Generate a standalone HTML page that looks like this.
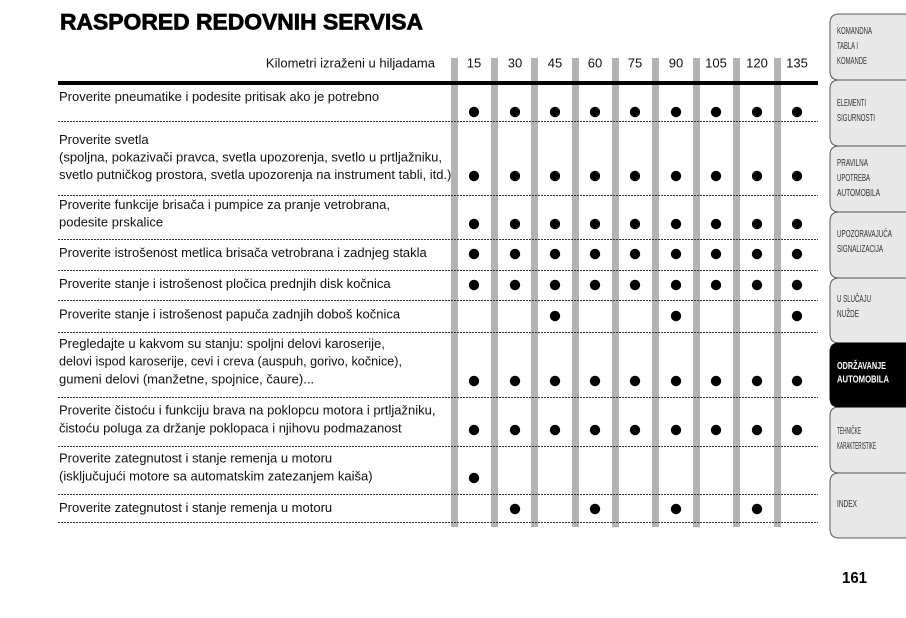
<!DOCTYPE html>
<html>
<head>
<meta charset="utf-8">
<style>
  html, body { margin:0; padding:0; background:#fff; }
  body { width:906px; height:618px; overflow:hidden; position:relative; }
  svg { position:absolute; left:0; top:0; }
  .t { font-family:"Liberation Sans", Arial, sans-serif; font-size:13px; fill:#111; }
  .tab { font-family:"Liberation Sans", Arial, sans-serif; font-size:10.5px; fill:#333; }
</style>
</head>
<body>
<svg width="906" height="618" viewBox="0 0 906 618" xmlns="http://www.w3.org/2000/svg">
  <!-- Title -->
  <text x="60" y="29.5" font-family="Liberation Sans, Arial, sans-serif" font-weight="bold" font-size="22" fill="#000" stroke="#000" stroke-width="0.7" textLength="363" lengthAdjust="spacingAndGlyphs">RASPORED REDOVNIH SERVISA</text>

  <!-- Gray column bars -->
  <g fill="#b3b3b3">
    <rect x="451" y="58" width="7" height="469"/>
    <rect x="491" y="58" width="7" height="469"/>
    <rect x="531" y="58" width="7" height="469"/>
    <rect x="572" y="58" width="7" height="469"/>
    <rect x="612" y="58" width="7" height="469"/>
    <rect x="652" y="58" width="7" height="469"/>
    <rect x="693" y="58" width="7" height="469"/>
    <rect x="733" y="58" width="7" height="469"/>
    <rect x="774" y="58" width="7" height="469"/>
  </g>

  <!-- Header -->
  <text class="t" x="435" y="67.5" text-anchor="end">Kilometri izraženi u hiljadama</text>
  <g class="t" text-anchor="middle">
    <text x="474" y="67.5">15</text>
    <text x="515" y="67.5">30</text>
    <text x="555" y="67.5">45</text>
    <text x="595" y="67.5">60</text>
    <text x="635" y="67.5">75</text>
    <text x="676" y="67.5">90</text>
    <text x="716" y="67.5">105</text>
    <text x="757" y="67.5">120</text>
    <text x="797" y="67.5">135</text>
  </g>

  <!-- Thick rule -->
  <rect x="58" y="81" width="760" height="4" fill="#000"/>

  <!-- Dotted row separators -->
  <g stroke="#333" stroke-width="1" stroke-dasharray="2 1">
    <line x1="58" y1="121.5" x2="818" y2="121.5"/>
    <line x1="58" y1="195.5" x2="818" y2="195.5"/>
    <line x1="58" y1="239.5" x2="818" y2="239.5"/>
    <line x1="58" y1="270.5" x2="818" y2="270.5"/>
    <line x1="58" y1="300.5" x2="818" y2="300.5"/>
    <line x1="58" y1="332.5" x2="818" y2="332.5"/>
    <line x1="58" y1="397.5" x2="818" y2="397.5"/>
    <line x1="58" y1="446.5" x2="818" y2="446.5"/>
    <line x1="58" y1="494.5" x2="818" y2="494.5"/>
    <line x1="58" y1="522.5" x2="818" y2="522.5"/>
  </g>

  <!-- Row text -->
  <g class="t">
    <text x="59" y="101">Proverite pneumatike i podesite pritisak ako je potrebno</text>

    <text x="59" y="144">Proverite svetla</text>
    <text x="59" y="161.5">(spoljna, pokazivači pravca, svetla upozorenja, svetlo u prtljažniku,</text>
    <text x="59" y="179">svetlo putničkog prostora, svetla upozorenja na instrument tabli, itd.)</text>

    <text x="59" y="209">Proverite funkcije brisača i pumpice za pranje vetrobrana,</text>
    <text x="59" y="226.5">podesite prskalice</text>

    <text x="59" y="257">Proverite istrošenost metlica brisača vetrobrana i zadnjeg stakla</text>

    <text x="59" y="288">Proverite stanje i istrošenost pločica prednjih disk kočnica</text>

    <text x="59" y="318.5">Proverite stanje i istrošenost papuča zadnjih doboš kočnica</text>

    <text x="59" y="348">Pregledajte u kakvom su stanju: spoljni delovi karoserije,</text>
    <text x="59" y="365.5" textLength="343" lengthAdjust="spacingAndGlyphs">delovi ispod karoserije, cevi i creva (auspuh, gorivo, kočnice),</text>
    <text x="59" y="383.5">gumeni delovi (manžetne, spojnice, čaure)...</text>

    <text x="59" y="414.5">Proverite čistoću i funkciju brava na poklopcu motora i prtljažniku,</text>
    <text x="59" y="432.5">čistoću poluga za držanje poklopaca i njihovu podmazanost</text>

    <text x="59" y="462.5">Proverite zategnutost i stanje remenja u motoru</text>
    <text x="59" y="480.5">(isključujući motore sa automatskim zatezanjem kaiša)</text>

    <text x="59" y="512">Proverite zategnutost i stanje remenja u motoru</text>
  </g>

  <!-- Dots -->
  <g fill="#000">
    <circle cx="474" cy="112" r="5.2"/><circle cx="515" cy="112" r="5.2"/><circle cx="555" cy="112" r="5.2"/><circle cx="595" cy="112" r="5.2"/><circle cx="635" cy="112" r="5.2"/><circle cx="676" cy="112" r="5.2"/><circle cx="716" cy="112" r="5.2"/><circle cx="757" cy="112" r="5.2"/><circle cx="797" cy="112" r="5.2"/>
    <circle cx="474" cy="176" r="5.2"/><circle cx="515" cy="176" r="5.2"/><circle cx="555" cy="176" r="5.2"/><circle cx="595" cy="176" r="5.2"/><circle cx="635" cy="176" r="5.2"/><circle cx="676" cy="176" r="5.2"/><circle cx="716" cy="176" r="5.2"/><circle cx="757" cy="176" r="5.2"/><circle cx="797" cy="176" r="5.2"/>
    <circle cx="474" cy="224" r="5.2"/><circle cx="515" cy="224" r="5.2"/><circle cx="555" cy="224" r="5.2"/><circle cx="595" cy="224" r="5.2"/><circle cx="635" cy="224" r="5.2"/><circle cx="676" cy="224" r="5.2"/><circle cx="716" cy="224" r="5.2"/><circle cx="757" cy="224" r="5.2"/><circle cx="797" cy="224" r="5.2"/>
    <circle cx="474" cy="254" r="5.2"/><circle cx="515" cy="254" r="5.2"/><circle cx="555" cy="254" r="5.2"/><circle cx="595" cy="254" r="5.2"/><circle cx="635" cy="254" r="5.2"/><circle cx="676" cy="254" r="5.2"/><circle cx="716" cy="254" r="5.2"/><circle cx="757" cy="254" r="5.2"/><circle cx="797" cy="254" r="5.2"/>
    <circle cx="474" cy="285" r="5.2"/><circle cx="515" cy="285" r="5.2"/><circle cx="555" cy="285" r="5.2"/><circle cx="595" cy="285" r="5.2"/><circle cx="635" cy="285" r="5.2"/><circle cx="676" cy="285" r="5.2"/><circle cx="716" cy="285" r="5.2"/><circle cx="757" cy="285" r="5.2"/><circle cx="797" cy="285" r="5.2"/>
    <circle cx="555" cy="316" r="5.2"/><circle cx="676" cy="316" r="5.2"/><circle cx="797" cy="316" r="5.2"/>
    <circle cx="474" cy="381" r="5.2"/><circle cx="515" cy="381" r="5.2"/><circle cx="555" cy="381" r="5.2"/><circle cx="595" cy="381" r="5.2"/><circle cx="635" cy="381" r="5.2"/><circle cx="676" cy="381" r="5.2"/><circle cx="716" cy="381" r="5.2"/><circle cx="757" cy="381" r="5.2"/><circle cx="797" cy="381" r="5.2"/>
    <circle cx="474" cy="430" r="5.2"/><circle cx="515" cy="430" r="5.2"/><circle cx="555" cy="430" r="5.2"/><circle cx="595" cy="430" r="5.2"/><circle cx="635" cy="430" r="5.2"/><circle cx="676" cy="430" r="5.2"/><circle cx="716" cy="430" r="5.2"/><circle cx="757" cy="430" r="5.2"/><circle cx="797" cy="430" r="5.2"/>
    <circle cx="474" cy="478" r="5.2"/>
    <circle cx="515" cy="509" r="5.2"/><circle cx="595" cy="509" r="5.2"/><circle cx="676" cy="509" r="5.2"/><circle cx="757" cy="509" r="5.2"/>
  </g>

  <!-- Side tabs -->
  <g stroke="#555" stroke-width="1">
    <path d="M907 14 H839 Q830 14 830 23 V71 Q830 80 839 80 H907 Z" fill="#e8e8e8"/>
    <path d="M907 80 H839 Q830 80 830 89 V137 Q830 146 839 146 H907 Z" fill="#e8e8e8"/>
    <path d="M907 146 H839 Q830 146 830 155 V203 Q830 212 839 212 H907 Z" fill="#e8e8e8"/>
    <path d="M907 212 H839 Q830 212 830 221 V269 Q830 278 839 278 H907 Z" fill="#e8e8e8"/>
    <path d="M907 278 H839 Q830 278 830 287 V334 Q830 343 839 343 H907 Z" fill="#e8e8e8"/>
    <path d="M907 407 H839 Q830 407 830 416 V464 Q830 473 839 473 H907 Z" fill="#e8e8e8"/>
    <path d="M907 473 H839 Q830 473 830 482 V529 Q830 538 839 538 H907 Z" fill="#e8e8e8"/>
    <path d="M907 343 H839 Q830 343 830 352 V398 Q830 407 839 407 H907 Z" fill="#000" stroke="#000"/>
  </g>

  <g class="tab">
    <text x="837" y="34" textLength="35" lengthAdjust="spacingAndGlyphs">KOMANDNA</text>
    <text x="837" y="49" textLength="21" lengthAdjust="spacingAndGlyphs">TABLA I</text>
    <text x="837" y="64" textLength="30" lengthAdjust="spacingAndGlyphs">KOMANDE</text>

    <text x="837" y="106" textLength="29" lengthAdjust="spacingAndGlyphs">ELEMENTI</text>
    <text x="837" y="121" textLength="38" lengthAdjust="spacingAndGlyphs">SIGURNOSTI</text>

    <text x="837" y="166" textLength="31" lengthAdjust="spacingAndGlyphs">PRAVILNA</text>
    <text x="837" y="181" textLength="33" lengthAdjust="spacingAndGlyphs">UPOTREBA</text>
    <text x="837" y="196" textLength="43" lengthAdjust="spacingAndGlyphs">AUTOMOBILA</text>

    <text x="837" y="237" textLength="55" lengthAdjust="spacingAndGlyphs">UPOZORAVAJUĆA</text>
    <text x="837" y="252" textLength="46" lengthAdjust="spacingAndGlyphs">SIGNALIZACIJA</text>

    <text x="837" y="302" textLength="34" lengthAdjust="spacingAndGlyphs">U SLUČAJU</text>
    <text x="837" y="317" textLength="22" lengthAdjust="spacingAndGlyphs">NUŽDE</text>

    <text x="837" y="434" textLength="24" lengthAdjust="spacingAndGlyphs">TEHNIČKE</text>
    <text x="837" y="449" textLength="39" lengthAdjust="spacingAndGlyphs">KARAKTERISTIKE</text>

    <text x="837" y="507" textLength="20" lengthAdjust="spacingAndGlyphs">INDEX</text>
  </g>
  <g font-family="Liberation Sans, Arial, sans-serif" font-weight="bold" font-size="10.5" fill="#fff">
    <text x="837" y="369" textLength="49" lengthAdjust="spacingAndGlyphs">ODRŽAVANJE</text>
    <text x="837" y="382.5" textLength="52" lengthAdjust="spacingAndGlyphs">AUTOMOBILA</text>
  </g>

  <!-- Page number -->
  <text x="842" y="583" font-family="Liberation Sans, Arial, sans-serif" font-weight="bold" font-size="16" fill="#000" textLength="25" lengthAdjust="spacingAndGlyphs">161</text>
</svg>
</body>
</html>
